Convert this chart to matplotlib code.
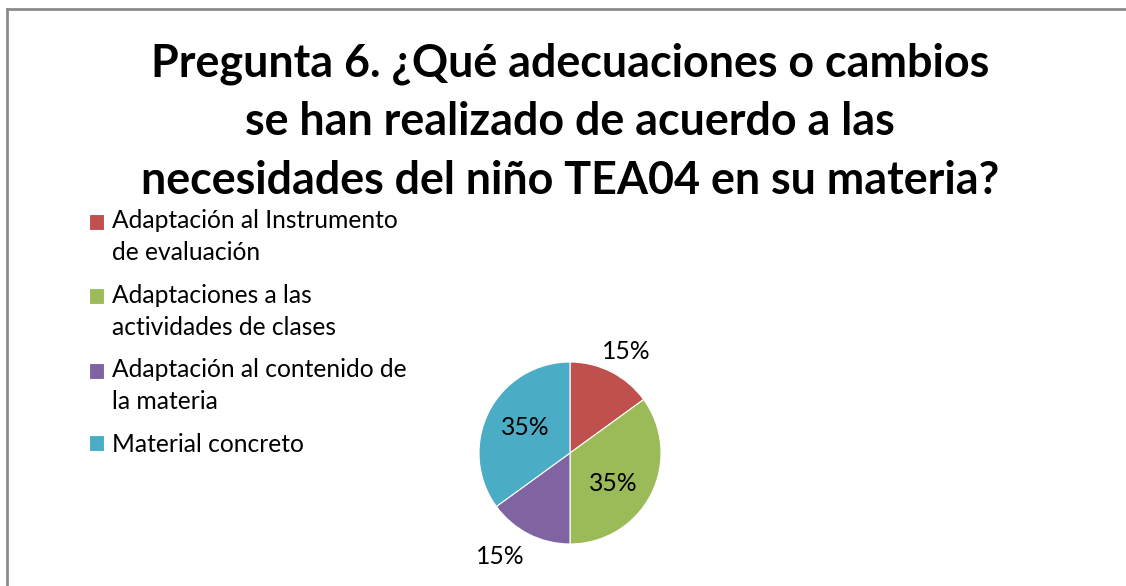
import matplotlib
matplotlib.use("Agg")
import matplotlib.pyplot as plt
from matplotlib.lines import Line2D
from matplotlib.patches import Rectangle
from matplotlib.legend_handler import HandlerPatch
import numpy as np

categories = ["Adaptación al Instrumento\nde evaluación",
              "Adaptaciones a las\nactividades de clases",
              "Adaptación al contenido de\nla materia",
              "Material concreto"]
values = [15, 35, 15, 35]
colors = ["#C0504D", "#9BBB59", "#8064A2", "#4BACC6"]
title = "Pregunta 6. ¿Qué adecuaciones o cambios\nse han realizado de acuerdo a las\nnecesidades del niño TEA04 en su materia?"

plt.rcParams['font.family'] = ['Lato', 'DejaVu Sans']

W, H = 1126, 586
fig = plt.figure(figsize=(W / 100, H / 100), dpi=100)

# border (top and left)
fig.add_artist(Line2D([7.5 / W, 7.5 / W], [0, 1 - 8.5 / H], transform=fig.transFigure,
                      color="#8c8c8c", lw=2))
fig.add_artist(Line2D([7.5 / W, 1], [1 - 8.5 / H, 1 - 8.5 / H], transform=fig.transFigure,
                      color="#8c8c8c", lw=2))

fig.text(570 / W, 1 - 122 / H, title, ha="center", va="center", fontsize=32.3,
         fontweight="bold", linespacing=1.48)

cx, cy, r = 570, 453, 91
ax = fig.add_axes([(cx - r) / W, (H - cy - r) / H, 2 * r / W, 2 * r / H])
wedges, texts, autotexts = ax.pie(values, colors=colors, startangle=90, counterclock=False,
                                  autopct="%1.0f%%", pctdistance=0.58,
                                  wedgeprops=dict(edgecolor="white", linewidth=0.8),
                                  textprops=dict(fontsize=17.8, color="black"))
ax.set_xlim(-1, 1)
ax.set_ylim(-1, 1)
ax.set_aspect("equal")

# label placement (distance from centre, angular tweak in degrees)
place = [(1.27, -2), (0.58, -8), (1.37, -7), (0.57, -3)]
for w, t, (d, da) in zip(wedges, autotexts, place):
    ang = np.deg2rad((w.theta1 + w.theta2) / 2 + da)
    t.set_position((d * np.cos(ang), d * np.sin(ang)))
    t.set_ha("center")
    t.set_va("center")


def make_handler(nlines):
    shift = 11.3 * (nlines - 1)

    def patch_func(legend, orig_handle, xdescent, ydescent, width, height, fontsize):
        return Rectangle((-xdescent, -ydescent + shift), width, height)
    return HandlerPatch(patch_func=patch_func)


hmap = {w: make_handler(lbl.count("\n") + 1) for w, lbl in zip(wedges, categories)}

leg = fig.legend(wedges, categories, loc="upper left",
                 bbox_to_anchor=(89 / W, 1 - 209 / H), frameon=False,
                 fontsize=17.7, handlelength=0.62, handleheight=0.62, handletextpad=0.3,
                 labelspacing=0.8, borderpad=0, borderaxespad=0, handler_map=hmap)
for t in leg.get_texts():
    t.set_linespacing(1.47)

fig.savefig("out.png", dpi=100)
